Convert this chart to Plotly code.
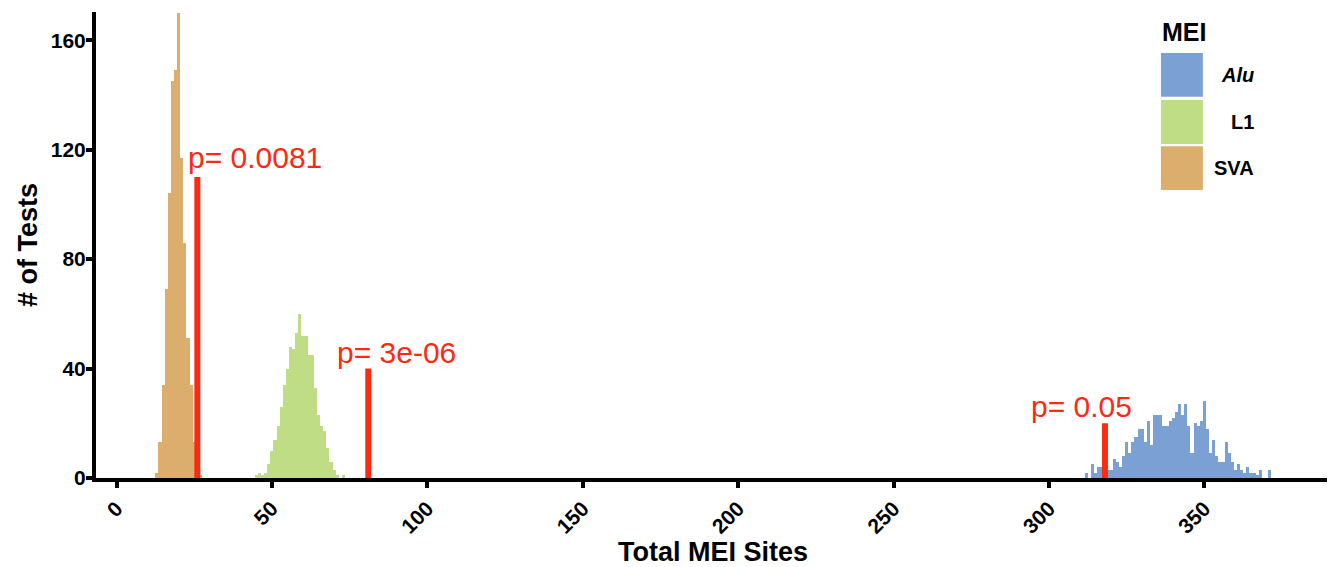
import plotly.graph_objects as go

# ---------------- data ----------------
series_names = ["Alu", "L1", "SVA"]
series_colors = ["#7ba0d4", "#bedd84", "#dbae6d"]

sva_bins = list(range(13, 28))
sva_counts = [2, 13, 34, 69, 104, 145, 149, 170, 117, 86, 51, 34, 13, 3, 1]

l1_bins = list(range(45, 74))
l1_counts = [1, 2, 1, 2, 5, 10, 14, 19, 26, 34, 40, 48, 47, 53, 60, 52, 52, 45,
             45, 33, 23, 19, 17, 11, 6, 3, 1, 0, 1]

alu_bins = list(range(310, 372))
alu_counts = [0, 0, 2, 0, 5, 2, 4, 4, 3, 3, 3, 7, 6, 4, 8, 13, 9, 13, 15, 18,
              18, 13, 21, 12, 23, 23, 23, 19, 19, 21, 22, 24, 27, 23, 27, 19, 9,
              20, 19, 21, 28, 18, 9, 14, 8, 6, 6, 13, 9, 6, 3, 5, 3, 2, 4, 2, 2,
              1, 3, 0, 0, 3]

obs_x = [26, 81, 318]          # observed totals (SVA, L1, Alu)
obs_h = [110, 40, 20]          # segment heights
p_labels = ["p= 0.0081", "p= 3e-06", "p= 0.05"]
p_label_x = [44.7, 90.0, 310.4]
p_label_y = [117, 46, 26.3]

x_ticks = [0, 50, 100, 150, 200, 250, 300, 350]
y_ticks = [0, 40, 80, 120, 160]

FONT = "Arial, 'Liberation Sans', Helvetica, sans-serif"
RED = "#fb2a12"

fig = go.Figure()
hist = {"Alu": (alu_bins, alu_counts), "L1": (l1_bins, l1_counts), "SVA": (sva_bins, sva_counts)}
for name, col in zip(series_names, series_colors):
    b, c = hist[name]
    fig.add_trace(go.Bar(x=b, y=c, width=1, name=name, marker=dict(color=col, line=dict(width=0)),
                         showlegend=False))

for x, h in zip(obs_x, obs_h):
    fig.add_trace(go.Scatter(x=[x, x], y=[0, h], mode="lines",
                             line=dict(color=RED, width=6), showlegend=False))

for t, x, y in zip(p_labels, p_label_x, p_label_y):
    fig.add_annotation(x=x, y=y, text=t, showarrow=False, xanchor="center", yanchor="middle",
                       font=dict(family=FONT, size=30, color=RED))

# ---- custom legend (ggplot style) ----
fig.add_annotation(xref="paper", yref="paper", x=0.862, y=0.957, text="<b>MEI</b>", showarrow=False,
                   xanchor="left", yanchor="middle", font=dict(family=FONT, size=25, color="black"))
key_top = [0.912, 0.811, 0.712]
key_h = 0.094
for i, (name, col) in enumerate(zip(series_names, series_colors)):
    y1 = key_top[i]
    y0 = y1 - key_h
    fig.add_shape(type="rect", xref="paper", yref="paper", x0=0.863, x1=0.897, y0=y0, y1=y1,
                  fillcolor=col, line=dict(width=0))
    label = f"<i><b>{name}</b></i>" if name == "Alu" else f"<b>{name}</b>"
    fig.add_annotation(xref="paper", yref="paper", x=0.940, y=(y0 + y1) / 2, text=label, showarrow=False,
                       xanchor="right", yanchor="middle", font=dict(family=FONT, size=20, color="black"))

# page body has an 8px margin, so the figure is sized to fit inside it
fig.update_layout(
    width=1327, height=559,
    margin=dict(l=88, r=5, t=4, b=89),
    plot_bgcolor="white", paper_bgcolor="white",
    barmode="overlay", bargap=0,
    font=dict(family=FONT, color="black"),
)
fig.update_xaxes(range=[-6.6, 390.4], tickvals=x_ticks, ticktext=[str(v) for v in x_ticks],
                 tickangle=-45, showgrid=False, zeroline=False, automargin=False,
                 showline=True, linewidth=4, linecolor="black",
                 ticks="outside", ticklen=6, tickwidth=4, tickcolor="black",
                 tickfont=dict(family=FONT, size=21, color="black", weight="bold"),
                 title=dict(text="<b>Total MEI Sites</b>", font=dict(family=FONT, size=27, color="black"),
                            standoff=6))
fig.update_yaxes(range=[0, 170.3], tickvals=y_ticks, ticktext=[str(v) for v in y_ticks],
                 showgrid=False, zeroline=False, automargin=False,
                 showline=True, linewidth=4, linecolor="black",
                 ticks="outside", ticklen=6, tickwidth=4, tickcolor="black",
                 ticklabelstandoff=-4,
                 tickfont=dict(family=FONT, size=21, color="black", weight="bold"),
                 title=dict(text="<b># of Tests</b>", font=dict(family=FONT, size=27, color="black"),
                            standoff=6))

fig.write_html("out.html")
